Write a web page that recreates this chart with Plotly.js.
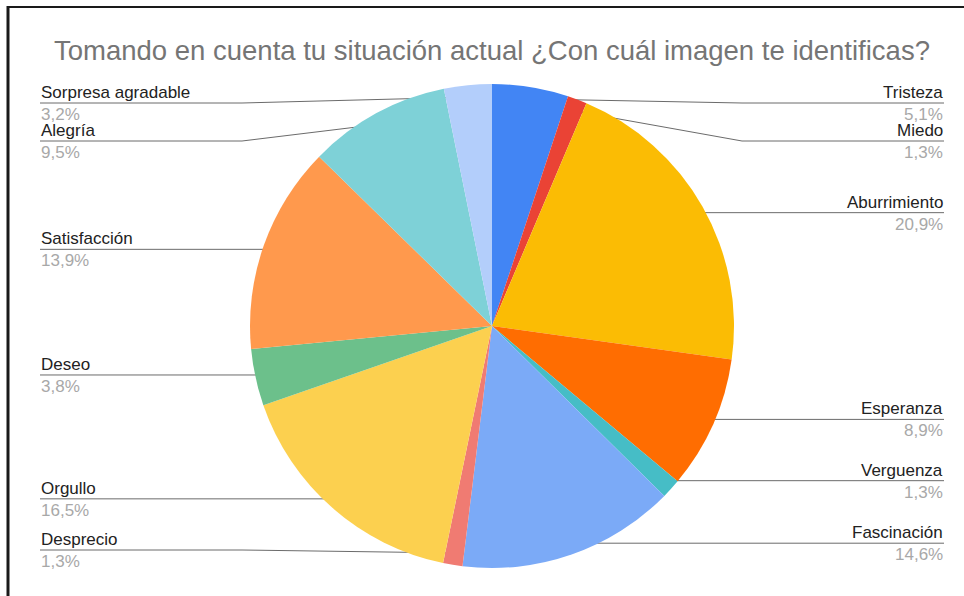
<!DOCTYPE html>
<html>
<head>
<meta charset="utf-8">
<script src="https://cdn.plot.ly/plotly-3.0.1.min.js"></script>
<style>
  html, body { margin: 0; padding: 0; background: #ffffff; }
  #chart { width: 964px; height: 596px; }
</style>
</head>
<body>
<div id="chart"></div>
<script>
// ---- data ----
const categories = ["Tristeza", "Miedo", "Aburrimiento", "Esperanza", "Verguenza", "Fascinación",
                    "Desprecio", "Orgullo", "Deseo", "Satisfacción", "Alegría", "Sorpresa agradable"];
const values = [5.1, 1.3, 20.9, 8.9, 1.3, 14.6, 1.3, 16.5, 3.8, 13.9, 9.5, 3.2];
const colors = ["#4285F4", "#EA4335", "#FBBC04", "#FF6D01", "#46BDC6", "#7BAAF7",
                "#F07B72", "#FCD04F", "#6CC08B", "#FF994D", "#7ED1D7", "#B3CEFB"];
const titleText = "Tomando en cuenta tu situación actual ¿Con cuál imagen te identificas?";

// ---- geometry (pixel space of the 964x596 canvas) ----
const W = 964, H = 596;
const CX = 492, CY = 326, R = 242;
const DOT_R = 230, BEND_DX = 250;
const MIN_Y = 103, MAX_Y = 550, GAP = 38;
const RIGHT_X = 944, LEFT_X = 40;
const FONT = "Liberation Sans, Arial, sans-serif";

const total = values.reduce((a, b) => a + b, 0);
let cum = 0;
const items = values.map((v, i) => {
  const mid = (cum + v / 2) / total * 2 * Math.PI;
  cum += v;
  const dx = CX + DOT_R * Math.sin(mid);
  const dy = CY - DOT_R * Math.cos(mid);
  return { i, dx, dy, side: Math.sin(mid) >= 0 ? 1 : -1 };
});

function layoutSide(list) {
  list.sort((a, b) => a.dy - b.dy);
  list.forEach(it => it.ly = Math.min(MAX_Y, Math.max(MIN_Y, it.dy)));
  for (let k = 1; k < list.length; k++)
    list[k].ly = Math.max(list[k].ly, list[k - 1].ly + GAP);
  for (let k = list.length - 2; k >= 0; k--)
    list[k].ly = Math.min(list[k].ly, list[k + 1].ly - GAP);
}
layoutSide(items.filter(it => it.side > 0));
layoutSide(items.filter(it => it.side < 0));

const fmt = v => v.toFixed(1).replace(".", ",") + "%";

const traces = [{
  type: "pie",
  labels: categories,
  values: values,
  sort: false,
  direction: "clockwise",
  rotation: 0,
  marker: { colors: colors, line: { width: 0 } },
  textinfo: "none",
  hoverinfo: "skip",
  showlegend: false,
  domain: { x: [(CX - R) / W, (CX + R) / W], y: [(H - (CY + R)) / H, (H - (CY - R)) / H] }
}];

const annotations = [];
items.forEach(it => {
  const edge = it.side > 0 ? RIGHT_X : LEFT_X;
  const bend = CX + it.side * BEND_DX;
  traces.push({
    type: "scatter", mode: "lines",
    x: [it.dx, bend, edge], y: [it.dy, it.ly, it.ly],
    line: { color: "#6b6b6b", width: 1 },
    hoverinfo: "skip", showlegend: false
  });
  traces.push({
    type: "scatter", mode: "markers",
    x: [it.dx], y: [it.dy],
    marker: { color: "#9e9e9e", size: 4 },
    hoverinfo: "skip", showlegend: false
  });
  const anchor = it.side > 0 ? "right" : "left";
  annotations.push({
    xref: "x", yref: "y", x: edge, y: it.ly, xanchor: anchor, yanchor: "bottom",
    text: categories[it.i], showarrow: false, borderpad: 0, yshift: 0,
    font: { family: FONT, size: 17, color: "#222222" }
  });
  annotations.push({
    xref: "x", yref: "y", x: edge, y: it.ly, xanchor: anchor, yanchor: "top",
    text: fmt(values[it.i]), showarrow: false, borderpad: 0, yshift: -1,
    font: { family: FONT, size: 17, color: "#a8a8a8" }
  });
});

const layout = {
  width: W, height: H,
  margin: { l: 0, r: 0, t: 0, b: 0 },
  paper_bgcolor: "#ffffff", plot_bgcolor: "rgba(0,0,0,0)",
  showlegend: false,
  title: {
    text: titleText,
    font: { family: FONT, size: 27.5, color: "#757575" },
    xref: "paper", x: 492 / W, xanchor: "center",
    yref: "container", y: 1 - 50 / H, yanchor: "middle"
  },
  xaxis: { range: [0, W], visible: false, fixedrange: true, domain: [0, 1] },
  yaxis: { range: [H, 0], visible: false, fixedrange: true, domain: [0, 1] },
  annotations: annotations,
  shapes: [
    { type: "line", xref: "x", yref: "y", x0: 8, x1: 8, y0: 6, y1: H, line: { color: "#1a1a1a", width: 3 } },
    { type: "line", xref: "x", yref: "y", x0: 7, x1: W, y0: 7, y1: 7, line: { color: "#1a1a1a", width: 2 } }
  ]
};

Plotly.newPlot("chart", traces, layout, { staticPlot: true, displayModeBar: false });
</script>
</body>
</html>
